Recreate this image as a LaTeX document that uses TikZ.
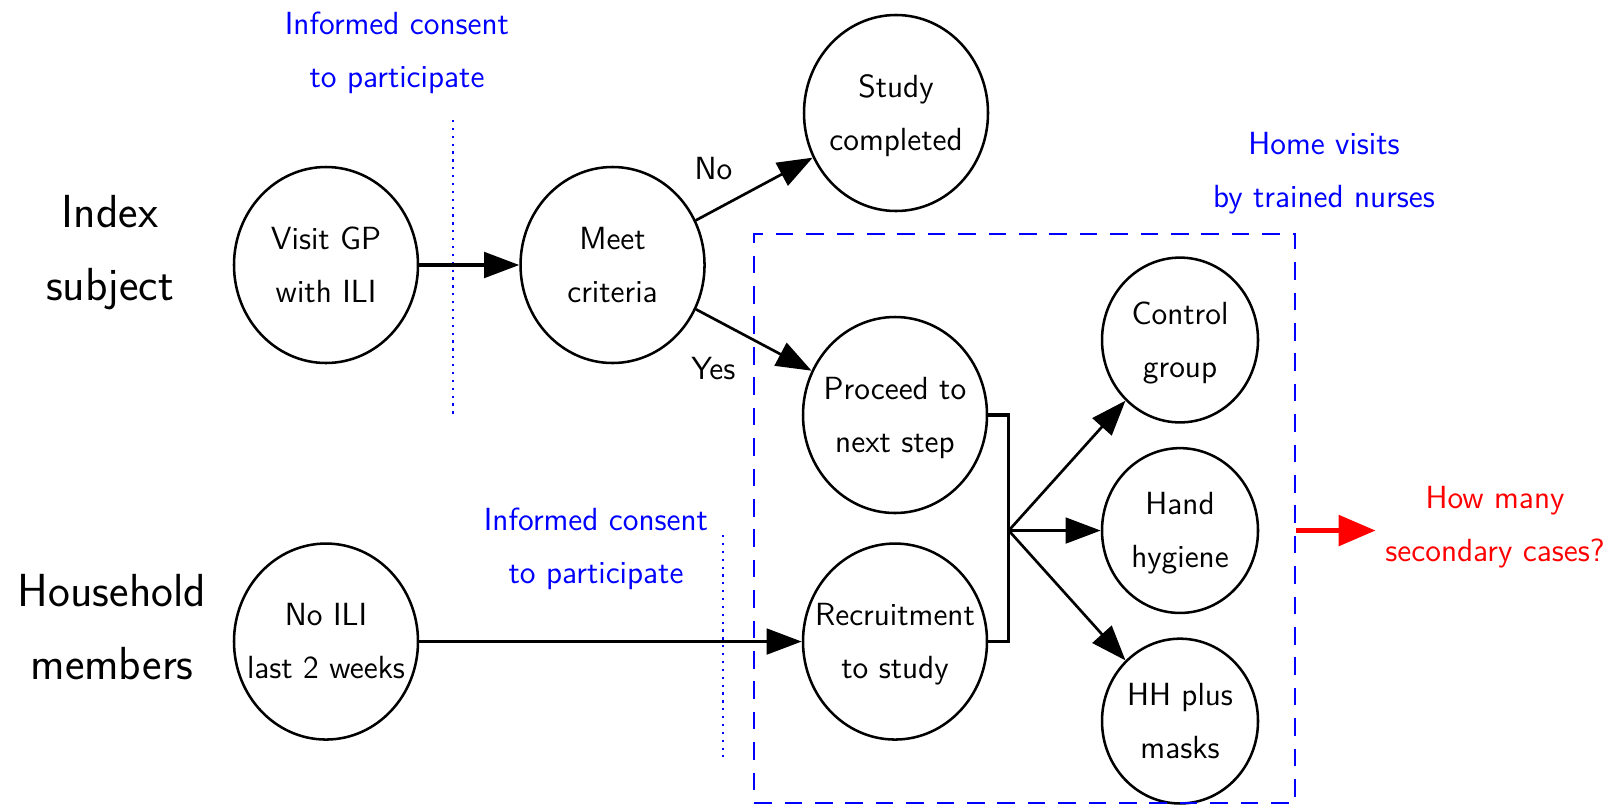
\documentclass[tikz,border=0pt]{standalone}
\usepackage{tikz}
\usetikzlibrary{arrows.meta,positioning,shapes.geometric}
\newcommand{\nodefont}{\fontsize{11.4pt}{18.8pt}\selectfont\sffamily}
\newcommand{\twolines}[2]{\makebox[0pt]{\begin{tabular}{@{}c@{}}#1\\#2\end{tabular}}}
\tikzset{
  stage/.style={ellipse, draw, line width=0.9pt, inner sep=0pt,
    minimum width=23mm, minimum height=24.5mm},
  arm/.style={stage, minimum width=19.5mm, minimum height=20.6mm},
  rowlab/.style={align=center, font=\fontsize{16.5pt}{26pt}\selectfont\sffamily},
  note/.style={align=center, text=blue},
  arr/.style={-{Triangle[length=4.4mm,width=3.2mm]}, line width=1.2pt},
  darr/.style={-{Triangle[length=4.4mm,width=3.2mm]}, line width=0.95pt},
  redarr/.style={-{Triangle[length=4.6mm,width=3.8mm]}, line width=1.5pt, red},
  consent/.style={blue, dotted, line width=0.8pt},
  homebox/.style={draw=blue, dash pattern=on 2.2mm off 1.6mm, line width=0.9pt,
    inner sep=0pt},
}
\begin{document}
\begin{tikzpicture}[x=0.125mm, y=-0.125mm, font=\nodefont]
  \useasboundingbox (0,0) rectangle (1615,807);

  % row labels
  \node[rowlab] (index) at (110,253) {Index\\subject};
  \node[rowlab] (house) at (112,627) {Household\\members};

  % index subject
  \node[stage] (visit) at (326,265) {\twolines{Visit GP}{with ILI}};
  \node[stage, right=12.5mm of visit] (meet) {\twolines{Meet}{criteria}};
  \node[stage] (study) at (896,113) {\twolines{Study}{completed}};
  \node[stage] (proceed) at (895,415) {\twolines{Proceed to}{next step}};

  % household
  \node[stage, below=3.5mm of proceed] (recruit) {\twolines{Recruitment}{to study}};
  \node[stage] (noili) at (326,0 |- recruit) {\twolines{No ILI}{last 2 weeks}};

  % arms
  \node[arm] (control) at (1180,340) {\twolines{Control}{group}};
  \node[arm, below=2.9mm of control] (hand) {\twolines{Hand}{hygiene}};
  \node[arm, below=2.9mm of hand] (masks) {\twolines{HH plus}{masks}};

  \node[homebox, minimum width=67.6mm, minimum height=71.1mm] (visits) at (1024.5,518.5) {};

  \node[note] (consent1) at (397,53) {Informed consent\\to participate};
  \node[note] (consent2) at (596,549) {Informed consent\\to participate};
  \node[note] (nurses) at (1324,173) {Home visits\\by trained nurses};
  \node[note, text=red] (cases) at (1495,527) {How many\\secondary cases?};

  \draw[consent] (453,120) -- (453,417);
  \draw[consent] (723,535) -- (723,757);

  \path (hand.west) ++(-92,0) coordinate (join);

  \draw[arr] (visit) -- (meet);
  \draw[darr] (meet) -- node[pos=0.15, above=2.5mm] {No} (study);
  \draw[darr] (meet) -- node[pos=0.15, below=3.5mm] {Yes} (proceed);
  \draw[arr] (noili) -- (recruit);
  \draw[line width=1.2pt] (proceed.east) -| (join) |- (recruit.east);
  \draw[darr] (join) -- (control);
  \draw[arr] (join) -- (hand);
  \draw[darr] (join) -- (masks);
  \draw[redarr] (visits.east |- hand) -- (cases.west |- hand);
\end{tikzpicture}
\end{document}
